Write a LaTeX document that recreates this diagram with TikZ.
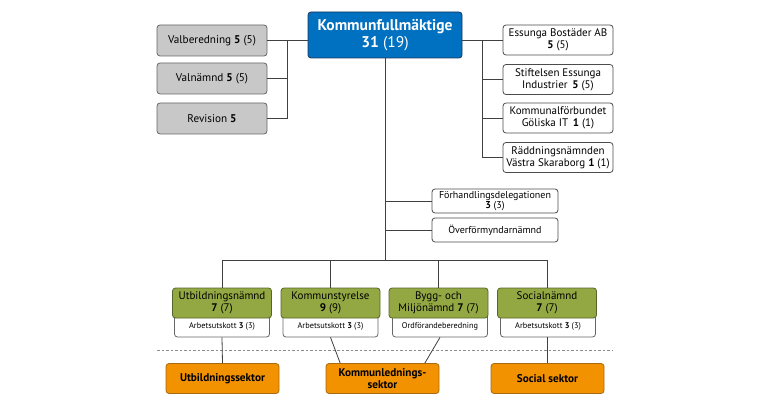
\documentclass[tikz,border=0pt]{standalone}
\usepackage{fontspec}
\setmainfont{PT Sans}
\usetikzlibrary{calc}
\definecolor{kfblue}{HTML}{0070C0}
\definecolor{kfedge}{HTML}{1B3558}
\definecolor{boxgrey}{HTML}{C8C8C8}
\definecolor{nmgreen}{HTML}{93A843}
\definecolor{nmedge}{HTML}{56662A}
\definecolor{sektor}{HTML}{F39200}
\definecolor{sekedge}{HTML}{A86A10}
\definecolor{wire}{HTML}{404040}
\tikzset{
  org/.style={draw=#1, rounded corners=3pt, line width=0.8pt, align=center,
    inner sep=1pt, font=\fontsize{11}{12}\selectfont},
  greybox/.style={org=black!60, fill=boxgrey, minimum width=110, minimum height=31,
    font=\fontsize{11.2}{12}\selectfont},
  bolag/.style={org=black!70, fill=white, minimum width=110, minimum height=30},
  delbox/.style={org=black!70, fill=white, minimum width=126, minimum height=24,
    font=\fontsize{10}{10.5}\selectfont},
  namnd/.style={org=nmedge, fill=nmgreen, minimum width=99, minimum height=30},
  utskott/.style={org=black!60, fill=white, minimum width=95, minimum height=25,
    text depth=0pt, font=\fontsize{8.3}{9}\selectfont},
  sektorbox/.style={org=sekedge, fill=sektor, minimum width=113, minimum height=30,
    font=\fontsize{11.2}{12.5}\selectfont\bfseries},
  wirestyle/.style={draw=wire, line width=0.8pt}
}
\begin{document}
\begin{tikzpicture}[x=1pt,y=-1pt]
    \useasboundingbox (0,0) rectangle (770,406);
    %% fullmaktige
    \node[org=kfedge, fill=kfblue, text=white, minimum width=154, minimum height=46,
      font=\fontsize{15.5}{16.5}\selectfont] (kf) at (385,35)
      {\textbf{Kommunfullmäktige}\\\textbf{31} (19)};
    %% left column
    \node[greybox] (valb) at (212,40.5) {Valberedning \textbf{5} (5)};
    \node[greybox] (valn) at (212,78.5) {Valnämnd \textbf{5} (5)};
    \node[greybox] (rev)  at (212,118.5) {Revision \textbf{5}};
    \coordinate (lbus) at (287,40.5);
    \draw[wirestyle] (valb.east) -- (valb.east -| kf.west);
    \draw[wirestyle] (lbus) |- (rev.east);
    \draw[wirestyle] (valn.east) -- (valn.east -| lbus);
    %% right column
    \node[bolag] (ess)  at (558,40)    {Essunga Bostäder AB\\\textbf{5} (5)};
    \node[bolag] (stif) at (558,79.5)  {Stiftelsen Essunga\\Industrier\, \textbf{5} (5)};
    \node[bolag] (kfb)  at (558,118)   {Kommunalförbundet\\Göliska IT\, \textbf{1} (1)};
    \node[bolag] (rad)  at (558,157.5) {Räddningsnämnden\\Västra Skaraborg \textbf{1} (1)};
    \coordinate (rbus) at (482,40);
    \draw[wirestyle] (ess.west -| kf.east) -- (ess.west);
    \draw[wirestyle] (rbus) |- (rad.west);
    \foreach \n in {stif,kfb}
        \draw[wirestyle] (\n.west) -- (\n.west -| rbus);
    %% delegations
    \node[delbox] (forh) at (495,201) {Förhandlingsdelegationen\\[-1pt]\textbf{3} (3)};
    \node[delbox] (over) at (495,230) {Överförmyndarnämnd};
    \coordinate (bus) at (385,260);
    \draw[wirestyle] (kf.south) -- (bus);
    \foreach \n in {forh,over}
        \draw[wirestyle] (\n.west) -- (\n.west -| bus);
    %% utskott (drawn first, under the boards)
    \node[utskott] (utbsub)  at (222,324.5)   {\\[-2pt]Arbetsutskott \textbf{3} (3)};
    \node[utskott] (kssub)   at (330.5,324.5) {\\[-2pt]Arbetsutskott \textbf{3} (3)};
    \node[utskott] (byggsub) at (440,324.5)   {\\[-2pt]Ordförandeberedning};
    \node[utskott] (socsub)  at (548,324.5)   {\\[-2pt]Arbetsutskott \textbf{3} (3)};
    %% boards
    \node[namnd] (utb)  at (222,303)   {Utbildningsnämnd\\\textbf{7} (7)};
    \node[namnd] (ks)   at (330.5,303) {Kommunstyrelse\\\textbf{9} (9)};
    \node[namnd] (bygg) at (438.5,303) {Bygg- och\\Miljönämnd \textbf{7} (7)};
    \node[namnd] (soc)  at (547,303)   {Socialnämnd\\\textbf{7} (7)};
    \draw[wirestyle] (utb.north |- bus) -- (soc.north |- bus);
    \foreach \n in {utb,ks,bygg,soc}
        \draw[wirestyle] (\n.north |- bus) -- (\n.north);
    %% divider
    \draw[black!45, line width=0.8pt, dash pattern=on 2.5pt off 2pt] (157,350) -- (613,350);
    %% sektorer
    \node[sektorbox] (utbs) at (222.5,378.5) {Utbildningssektor};
    \node[sektorbox] (kls)  at (382.5,378.5) {Kommunlednings-\\sektor};
    \node[sektorbox] (socs) at (547.5,378.5) {Social sektor};
    \draw[wirestyle] (utbsub.south) -- (utbs.north);
    \draw[wirestyle] (kssub.south) -- (kls.160);
    \draw[wirestyle] (byggsub.south) -- (kls.20);
    \draw[wirestyle] (socsub.south -| socs.north) -- (socs.north);
\end{tikzpicture}
\end{document}
